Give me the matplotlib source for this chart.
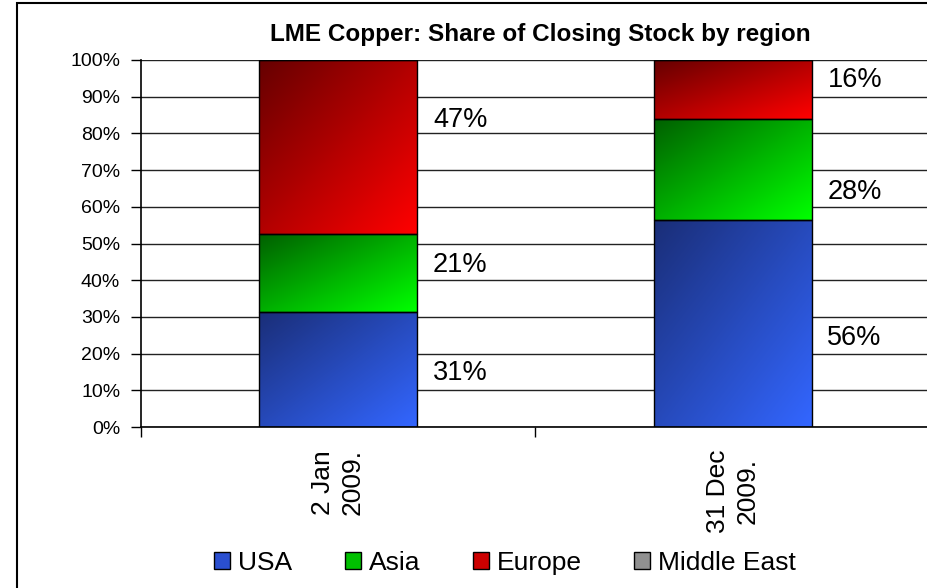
import numpy as np
import matplotlib
matplotlib.use('Agg')
from matplotlib import pyplot as plt
from matplotlib.patches import Rectangle, Patch
from matplotlib.colors import LinearSegmentedColormap

plt.rcParams['font.family'] = ['Liberation Sans', 'DejaVu Sans']

dates = ['2 Jan\n2009.', '31 Dec\n2009.']
regions = ['USA', 'Asia', 'Europe', 'Middle East']
usa = [31.4, 56.4]
asia = [21.1, 27.6]
europe = [47.5, 16.0]
middle_east = [0.0, 0.0]
shown = [['31%', '21%', '47%'], ['56%', '28%', '16%']]

# hand-placed label heights (in % units), as in the original
label_y = [[14.7, 44.2, 83.6], [24.3, 64.0, 94.6]]

# dark -> light gradient for each series
grads = {
    'USA': ('#1a2e78', '#3366ff'),
    'Asia': ('#006000', '#00ff00'),
    'Europe': ('#660000', '#ff0000'),
    'Middle East': ('#404040', '#d0d0d0'),
}

fig = plt.figure(figsize=(9.28, 5.88), dpi=100)
ax = fig.add_axes([141 / 928, 1 - 427 / 588, 789 / 928, 367 / 588])

x = np.arange(len(dates))
width = 0.4
series = [usa, asia, europe, middle_east]

ny, nx = 64, 64
u = np.linspace(0, 1, nx)
v = np.linspace(0, 1, ny)
uu, vv = np.meshgrid(u, v)
grad = (uu + vv) / 2  # row 0 = top with origin='upper'

bottom = np.zeros(len(dates))
for name, vals in zip(regions, series):
    vals = np.array(vals)
    bars = ax.bar(x, vals, width, bottom=bottom, color='none',
                  edgecolor='black', linewidth=1.0, zorder=3, label=name)
    cmap = LinearSegmentedColormap.from_list(name, grads[name])
    for b in bars:
        if b.get_height() <= 0:
            continue
        x0, y0 = b.get_x(), b.get_y()
        im = ax.imshow(grad, cmap=cmap, aspect='auto', origin='upper',
                       extent=[x0, x0 + b.get_width(), y0, y0 + b.get_height()],
                       zorder=2, interpolation='bilinear')
        im.set_clip_path(b)
    bottom += vals

for i in range(len(dates)):
    for j in range(3):
        ax.text(x[i] + width / 2 + 0.04, label_y[i][j], shown[i][j],
                fontsize=19.5, ha='left', va='center', color='black')

ax.set_xlim(-0.5, 1.5)
ax.set_ylim(0, 100)
ax.set_yticks(np.arange(0, 101, 10))
ax.set_yticklabels([f'{t}%' for t in range(0, 101, 10)], fontsize=14)
ax.yaxis.grid(True, color='#222222', linewidth=1.0)
ax.set_axisbelow(True)

ax.set_xticks([-0.5, 0.5, 1.5])
ax.set_xticklabels([])
ax.set_xticks(x, minor=True)
ax.set_xticklabels(dates, minor=True, rotation=90, fontsize=19,
                   va='top', ha='center', multialignment='center',
                   linespacing=1.3)
ax.tick_params(axis='x', which='minor', length=0, pad=16)
ax.tick_params(axis='x', which='major', length=7, direction='out', width=1)
ax.tick_params(axis='y', length=7, width=1, pad=8)

for s in ['top', 'right']:
    ax.spines[s].set_visible(False)
ax.spines['left'].set_linewidth(1.2)
ax.spines['bottom'].set_linewidth(1.2)

fig.text(540 / 928, 1 - 35 / 588, 'LME Copper: Share of Closing Stock by region',
         fontsize=17.5, fontweight='bold', ha='center', va='center')

handles = [Patch(facecolor=c, edgecolor='black', label=r)
           for r, c in zip(regions, ['#2a4fd0', '#00c000', '#cc0000', '#909090'])]
fig.legend(handles=handles, loc='center', bbox_to_anchor=(505 / 928, 1 - 563 / 588),
           ncol=4, frameon=False, fontsize=19, handlelength=0.6, handleheight=0.6,
           handletextpad=0.3, columnspacing=2.0)

fig.add_artist(Rectangle((17 / 928, -0.05), 1.2, 1.05 - 3 / 588, transform=fig.transFigure,
                         fill=False, edgecolor='black', linewidth=1.5))

fig.savefig('out.png', dpi=100)
